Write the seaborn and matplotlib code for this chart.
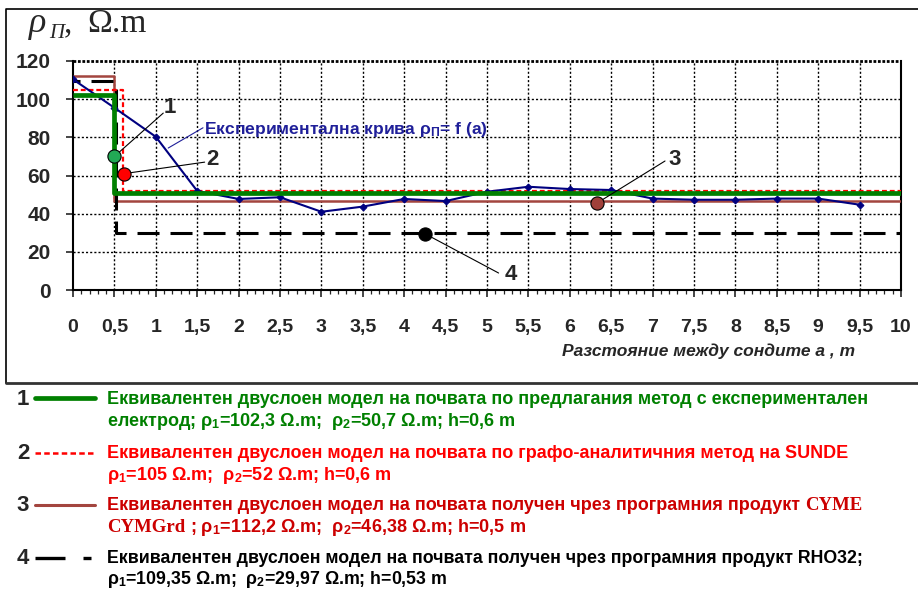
import matplotlib
matplotlib.use("Agg")
import matplotlib.pyplot as plt
from matplotlib import font_manager
from matplotlib.lines import Line2D
from matplotlib.ticker import MultipleLocator, FuncFormatter
import pandas as pd
import seaborn as sns

# Експериментална крива rho_П = f(a)
a_m = [0, 0.5, 1, 1.5, 2, 2.5, 3, 3.5, 4, 4.5, 5, 5.5, 6, 6.5, 7, 7.5, 8, 8.5, 9, 9.5]
rho_meas = [110.4, 95.5, 80.3, 51.9, 47.7, 48.6, 41.0, 43.7, 47.7, 46.6,
            51.5, 54.1, 52.9, 52.4, 47.9, 47.3, 47.3, 47.9, 47.9, 44.7]

# Двуслойни модели (1..4)
model_ids = ["1", "2", "3", "4"]
rho1 = [102.3, 105, 112.2, 109.35]
rho2 = [50.7, 52, 46.38, 29.97]
h_m = [0.6, 0.6, 0.5, 0.53]
step_at = [0.5, 0.6, 0.5, 0.52]   # къде е начертан скокът на графиката
dot_a = [0.5, 0.62, 6.33, 4.25]    # точки-маркери върху моделите
dot_rho = [70, 61, 45.6, 29.5]

x_ticks = [i * 0.5 for i in range(21)]
y_ticks = [0, 20, 40, 60, 80, 100, 120]

W, H = 918, 591

sns.set_theme(style="white")


def pick_font(names, fallback):
    have = {f.name for f in font_manager.fontManager.ttflist}
    for n in names:
        if n in have:
            return n
    return fallback


NARROW = pick_font(["Liberation Sans Narrow", "Arial Narrow", "DejaVu Sans Condensed"], "Liberation Sans")
SANS = "Liberation Sans"
SERIF = "Liberation Serif"

plt.rcParams["font.family"] = [SANS, "DejaVu Sans"]
plt.rcParams["mathtext.fontset"] = "custom"
plt.rcParams["mathtext.rm"] = NARROW + ":bold"
plt.rcParams["mathtext.bf"] = NARROW + ":bold"
plt.rcParams["mathtext.it"] = SERIF + ":italic"

C_GREEN = "#008000"
C_RED = "#FF0000"
C_BROWN = "#A3453F"
C_BLACK = "#000000"
C_NAVY = "#000080"
line_colors = [C_GREEN, C_RED, C_BROWN, C_BLACK]
dot_colors = ["#22AA55", "#FF0000", "#A0403A", "#000000"]

fig = plt.figure(figsize=(W / 100, H / 100), dpi=100)
ax = fig.add_axes([73 / W, 1 - 290 / H, 828 / W, 229 / H])

# мрежа
ax.vlines(x_ticks[1:], 0, 120, colors="black", linewidths=1.0, linestyles=(0, (1.5, 1.5)),
          zorder=2)
ax.hlines(y_ticks[1:-1], 0, 10, colors="black", linewidths=1.0, linestyles=(0, (1.5, 1.5)),
          zorder=2)
ax.hlines([120], 0, 10, colors="black", linewidths=2.0, linestyles=(0, (1, 0.6)),
          zorder=2, clip_on=False)

# модели
styles = [
    dict(lw=3.4, ls="-", zorder=6),
    dict(lw=1.6, ls=(0, (2.2, 1.3)), zorder=5),
    dict(lw=1.8, ls="-", zorder=4),
    dict(lw=2.2, ls=(4.9, (7.2, 3.6)), zorder=4),
]
for k in range(len(model_ids)):
    xs = [0, step_at[k], step_at[k], 10]
    ys = [rho1[k], rho1[k], rho2[k], rho2[k]]
    ax.plot(xs, ys, color=line_colors[k], solid_capstyle="butt", **styles[k])

# експериментална крива
df = pd.DataFrame({"a": a_m, "rho": rho_meas})
sns.lineplot(data=df, x="a", y="rho", ax=ax, color=C_NAVY, lw=1.5, marker="D",
             markersize=3.5, markeredgecolor=C_NAVY, estimator=None, legend=False, zorder=5)

# точки и номера
label_pos = [(1.17, 95.7), (1.69, 68.5), (7.27, 68.5), (5.29, 7.9)]
leader_end = [(1.09, 92.7), (1.59, 67.0), (7.15, 67.6), (5.14, 8.9)]
for k in range(len(model_ids)):
    ax.plot([dot_a[k], leader_end[k][0]], [dot_rho[k], leader_end[k][1]],
            color="black", lw=0.8, zorder=7)
    ax.plot(dot_a[k], dot_rho[k], "o", ms=9.5, color=dot_colors[k],
            mec="black", mew=0.8, zorder=8)
    ax.text(label_pos[k][0], label_pos[k][1], model_ids[k], fontsize=16,
            fontweight="bold", ha="center", va="center", zorder=8)

ax.plot([1.15, 1.57], [74.4, 85], color="#1F1F99", lw=0.8, zorder=7)
ax.text(1.58, 84, r"Експериментална крива ρ$_{\mathrm{П}}$= f (a)", color="#1F1F99",
        fontsize=12.6, fontweight="bold", ha="left", va="center", zorder=8)

ax.set_xlim(0, 10)
ax.set_ylim(0, 120)
ax.set_xticks(x_ticks)
ax.xaxis.set_minor_locator(MultipleLocator(0.1))
ax.set_yticks(y_ticks)
ax.xaxis.set_major_formatter(FuncFormatter(lambda v, p: f"{v:g}".replace(".", ",")))
ax.grid(False)
ax.tick_params(axis="x", which="major", direction="out", length=5, width=1.2, pad=16,
               labelsize=14, bottom=True)
ax.tick_params(axis="x", which="minor", direction="out", length=3, width=0.9, bottom=True)
ax.tick_params(axis="y", direction="out", length=5, width=1.2, pad=11, labelsize=15, left=True)
for lab in ax.get_xticklabels():
    lab.set_fontfamily(NARROW)
    lab.set_fontweight("bold")
for lab in ax.get_yticklabels():
    lab.set_fontweight("bold")
ax.set_xlabel("")
ax.set_ylabel("")
ax.spines["top"].set_visible(False)
for s in ["left", "bottom", "right"]:
    ax.spines[s].set_color("black")
    ax.spines[s].set_linewidth(1.5)

# заглавие на оста Y
fig.text(29 / W, 1 - 32 / H, "ρ", family=SERIF, style="italic", fontsize=26, va="baseline")
fig.text(49 / W, 1 - 38 / H, "П", family=SERIF, style="italic", fontsize=15, va="baseline")
fig.text(64 / W, 1 - 32 / H, ",", family=SERIF, fontsize=24, va="baseline")
fig.text(87 / W, 1 - 32 / H, "Ω.m", family=SERIF, fontsize=24, va="baseline")

fig.text(855 / W, 1 - 356 / H, "Разстояние между сондите а , m", family=NARROW,
         style="italic", fontweight="bold", fontsize=12.5, ha="right", va="baseline")

# рамка
fig.add_artist(Line2D([6 / W, 6 / W, 1.0], [1 - 383 / H, 1 - 9 / H, 1 - 9 / H],
                      color="black", lw=1.2, transform=fig.transFigure))
fig.add_artist(Line2D([6 / W, 1.0], [1 - 383 / H, 1 - 383 / H],
                      color="#333333", lw=2.0, transform=fig.transFigure))

# легенда
renderer = fig.canvas.get_renderer()


def put_pieces(x_px, y_px, pieces, color):
    x = x_px
    for text, kw in pieces:
        t = fig.text(x / W, 1 - y_px / H, text, color=color, ha="left", va="baseline", **kw)
        x += t.get_window_extent(renderer=renderer).width


nb = dict(family=NARROW, fontweight="bold", fontsize=13)
sb = dict(family=SANS, fontweight="bold", fontsize=12.8)
tb = dict(family=SERIF, fontweight="bold", fontsize=13.5)


def rho_txt(r1, r2, h):
    return (r"ρ$_{\mathbf{1}}$=" + f"{r1:g}".replace(".", ",") + r" Ω.m;  ρ$_{\mathbf{2}}$="
            + f"{r2:g}".replace(".", ",") + " Ω.m; h=" + f"{h:g}".replace(".", ",") + " m")


rows = [
    (404, [[("Еквивалентен двуслоен модел на почвата по предлагания метод с експериментален", nb)],
           [("електрод; " + rho_txt(rho1[0], rho2[0], h_m[0]), nb)]], C_GREEN),
    (458, [[("Еквивалентен двуслоен модел на почвата по графо-аналитичния метод на SUNDE", nb)],
           [(rho_txt(rho1[1], rho2[1], h_m[1]), nb)]], C_RED),
    (510, [[("Еквивалентен двуслоен модел на почвата получен чрез програмния продукт ", nb),
            ("CYME", tb)],
           [("CYMGrd", tb), (" ; " + rho_txt(rho1[2], rho2[2], h_m[2]), nb)]], "#CC0000"),
    (563, [[("Еквивалентен двуслоен модел на почвата получен чрез програмния продукт RHO32;", sb)],
           [(rho_txt(rho1[3], rho2[3], h_m[3]), sb)]], C_BLACK),
]
for k, (yb, lines, col) in enumerate(rows):
    fig.text(23 / W, 1 - (yb + 1) / H, model_ids[k], fontsize=16, fontweight="bold",
             ha="center", va="baseline")
    put_pieces(107, yb, lines[0], col)
    put_pieces(107, yb + 21.5, lines[1], col)

ly = [398, 453, 505, 558]
fig.add_artist(Line2D([35 / W, 95 / W], [1 - ly[0] / H] * 2, color=C_GREEN, lw=3.4,
                      transform=fig.transFigure))
fig.add_artist(Line2D([35 / W, 95 / W], [1 - ly[1] / H] * 2, color=C_RED, lw=1.8,
                      ls=(0, (2.2, 1.3)), transform=fig.transFigure))
fig.add_artist(Line2D([35 / W, 95 / W], [1 - ly[2] / H] * 2, color=C_BROWN, lw=2.2,
                      solid_capstyle="round", transform=fig.transFigure))
fig.add_artist(Line2D([35 / W, 91 / W], [1 - ly[3] / H] * 2, color=C_BLACK, lw=2.4,
                      ls=(0, (9, 5.4)), transform=fig.transFigure))

fig.savefig("out.png", dpi=100)
